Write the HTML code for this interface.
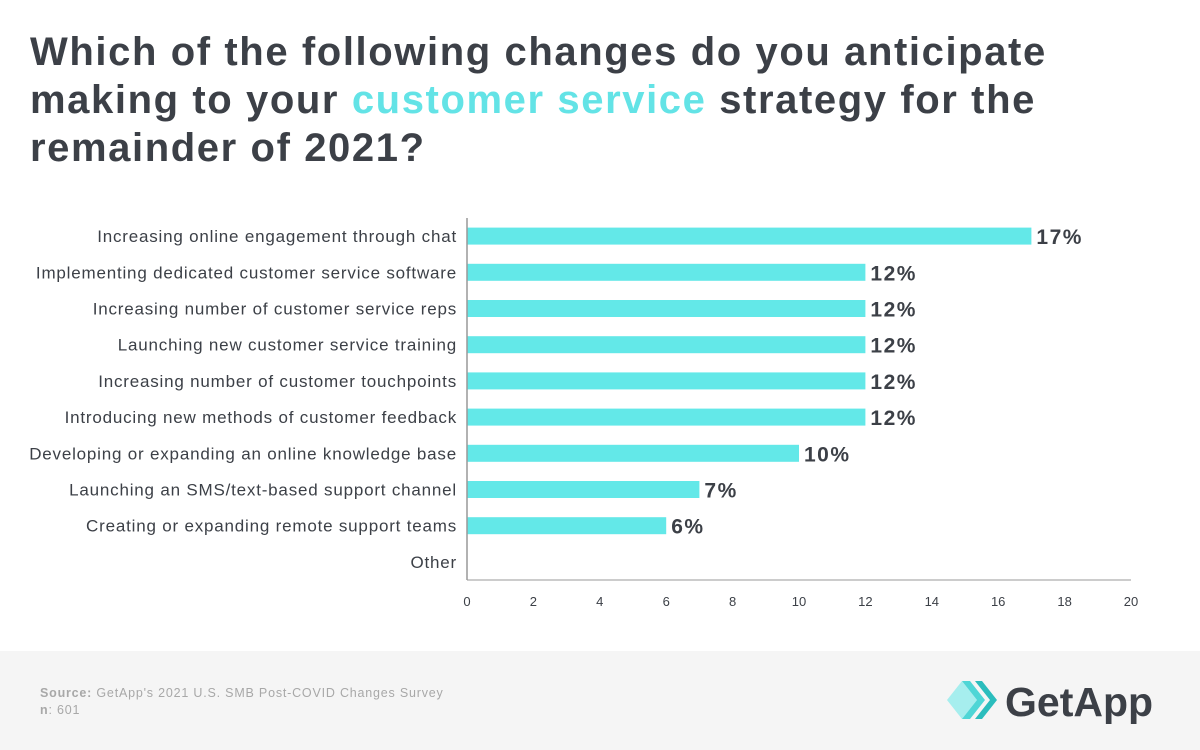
<!DOCTYPE html>
<html><head><meta charset="utf-8"><style>
body{margin:0;width:1200px;height:750px;overflow:hidden;background:#fff;font-family:"Liberation Sans",sans-serif;position:relative}
h1{position:absolute;left:30px;top:28px;margin:0;font-size:40px;line-height:48px;font-weight:bold;color:#3c4047;width:1170px;letter-spacing:1.6px;white-space:nowrap}
h1 span{color:#63e3e6}
#footer{position:absolute;left:0;top:651px;width:1200px;height:99px;background:#f5f5f5}
.src{position:absolute;left:40px;font-size:12.5px;color:#a8a8a8;letter-spacing:0.8px}
</style></head><body>
<h1>Which of the following changes do you anticipate<br>making to your <span>customer service</span> strategy for the<br>remainder of 2021?</h1>
<svg id="chart" width="1200" height="650" style="position:absolute;left:0;top:0"></svg>
<div id="footer">
<div class="src" style="top:35px"><b>Source:</b> GetApp's 2021 U.S. SMB Post-COVID Changes Survey</div>
<div class="src" style="top:52px"><b>n</b>: 601</div>
<svg style="position:absolute;left:945px;top:28px" width="215" height="45">
<polygon points="2,21 17,2 32,21 17,40" fill="#a6eeee"/>
<polygon points="17,2 25,2 40,21 25,40 17,40 32,21" fill="#4fd6d6"/>
<polygon points="30,2 37,2 52,21 37,40 30,40 45,21" fill="#2bbdbd"/>
<text x="60" y="37" font-size="41" font-weight="bold" fill="#3c4047" font-family="Liberation Sans, sans-serif">GetApp</text>
</svg>
</div>
<script>
const categories=["Increasing online engagement through chat","Implementing dedicated customer service software","Increasing number of customer service reps","Launching new customer service training","Increasing number of customer touchpoints","Introducing new methods of customer feedback","Developing or expanding an online knowledge base","Launching an SMS/text-based support channel","Creating or expanding remote support teams","Other"];
const values=[17,12,12,12,12,12,10,7,6,null];
const ticks=[0,2,4,6,8,10,12,14,16,18,20];
const svg=document.getElementById('chart');const NS='http://www.w3.org/2000/svg';
const x0=467,x1=1131,yTop=218,yBot=580,vmax=20;
const xs=v=>x0+(x1-x0)*v/vmax;
const band=(yBot-yTop)/categories.length;
const yc=i=>yTop+band*(i+0.5);
function mk(t,a){const e=document.createElementNS(NS,t);for(const k in a)e.setAttribute(k,a[k]);svg.appendChild(e);return e;}
categories.forEach((c,i)=>{
 const t=mk('text',{x:457,y:yc(i)+6,'text-anchor':'end','font-size':17,'letter-spacing':0.8,fill:'#3c4047'});t.textContent=c;
 
 
 const v=values[i];
 if(v!=null){
  const r=mk('rect',{x:x0,y:yc(i)-8.5,width:xs(v)-x0,height:17,fill:'#63e8e8'});
  
  
  const l=mk('text',{x:xs(v)+5,y:yc(i)+8,'font-size':21,'font-weight':'bold','letter-spacing':1.5,fill:'#3c4047'});l.textContent=v+'%';
  
  
 }
});
const ax=mk('line',{x1:x0,y1:yTop,x2:x0,y2:yBot,stroke:'#999','stroke-width':1.5});


const bx=mk('line',{x1:x0,y1:yBot,x2:x1,y2:yBot,stroke:'#999','stroke-width':1});


ticks.forEach(t=>{const e=mk('text',{x:xs(t),y:606,'text-anchor':'middle','font-size':13,fill:'#3c4047'});e.textContent=t;
 
 });
</script>
</body></html>
